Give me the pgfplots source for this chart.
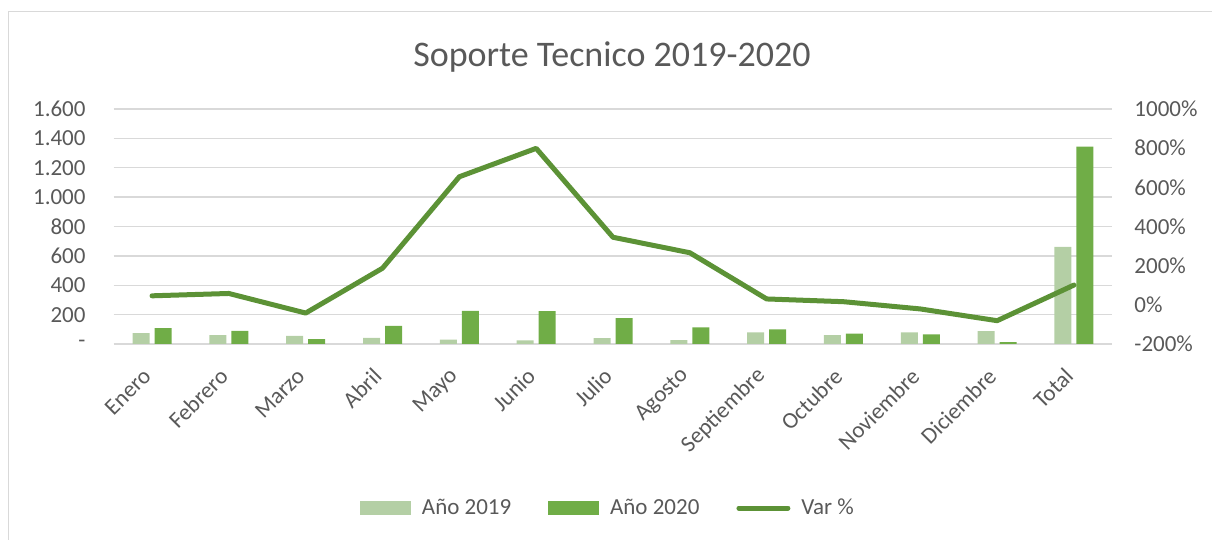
\documentclass[border=0pt]{standalone}
\usepackage{pgfplots}
\pgfplotsset{compat=1.18}
\usepackage{fontspec}
\setmainfont{Carlito}
\definecolor{cA}{HTML}{B4CFA5}
\definecolor{cB}{HTML}{70AD47}
\definecolor{cL}{HTML}{5C9236}
\definecolor{gridc}{HTML}{D9D9D9}
\definecolor{txt}{HTML}{595959}
\begin{document}
\begin{tikzpicture}
\useasboundingbox (0,0) rectangle (606pt,270pt);
\draw[gridc, line width=0.7pt] (4.15pt,-1pt) -- (4.15pt,264.15pt) -- (607pt,264.15pt);
\node[anchor=base, font=\fontsize{18}{21}\selectfont, text=txt] at (306pt,236.5pt) {Soporte Tecnico 2019-2020};
\begin{axis}[
  at={(56.8pt,98pt)}, anchor=south west, scale only axis,
  width=499.4pt, height=117.5pt,
  xmin=-0.5, xmax=12.5, ymin=0, ymax=1600,
  ytick={0,200,...,1600},
  yticklabels={-,200,400,600,800,1.000,1.200,1.400,1.600},
  xtick={0,...,12},
  xticklabels={Enero,Febrero,Marzo,Abril,Mayo,Junio,Julio,Agosto,Septiembre,Octubre,Noviembre,Diciembre,Total},
  axis line style={draw=none}, tick style={draw=none},
  ymajorgrids, grid style={gridc, line width=0.7pt},
  yticklabel style={font=\fontsize{11.5}{13}\selectfont, text=txt, xshift=-10.5pt},
  xticklabel style={font=\fontsize{11.5}{13}\selectfont, text=txt, xshift=0pt, yshift=-7.5pt, rotate=45, anchor=east},
  ybar=2.5pt, bar width=8.5pt,
]
\addplot[fill=cA, draw=none] coordinates {(0,74) (1,61) (2,56) (3,42) (4,29) (5,24) (6,40) (7,26) (8,79) (9,61) (10,79) (11,88) (12,662)};
\addplot[fill=cB, draw=none] coordinates {(0,108) (1,90) (2,33) (3,124) (4,226) (5,224) (6,176) (7,113) (8,99) (9,70) (10,65) (11,13) (12,1343)};
\end{axis}
\begin{axis}[
  at={(56.8pt,98pt)}, anchor=south west, scale only axis,
  width=499.4pt, height=117.5pt,
  xmin=-0.5, xmax=12.5, ymin=-200, ymax=1000,
  ytick={-200,0,...,1000},
  yticklabels={-200\%,0\%,200\%,400\%,600\%,800\%,1000\%},
  yticklabel pos=right,
  xtick=\empty,
  axis line style={draw=none}, tick style={draw=none},
  yticklabel style={font=\fontsize{11.5}{13}\selectfont, text=txt, xshift=7.5pt},
  legend columns=3,
  legend style={at={(0.496,-0.698)}, anchor=center, draw=none, fill=none,
    font=\fontsize{11.5}{13}\selectfont, text=txt,
    /tikz/every odd column/.append style={column sep=3.5pt},
    /tikz/every even column/.append style={column sep=16.5pt}},
]
\addlegendimage{legend image code/.code={\fill[cA] (0pt,-3.25pt) rectangle (25pt,3.25pt);}}
\addlegendentry{Año 2019}
\addlegendimage{legend image code/.code={\fill[cB] (0pt,-3.25pt) rectangle (25pt,3.25pt);}}
\addlegendentry{Año 2020}
\addplot[cL, line width=2.5pt, line join=round, line cap=round, mark=none,
  legend image code/.code={\draw[cL, line width=2.5pt, line cap=round] (1.25pt,0pt) -- (25.75pt,0pt);}]
  coordinates {(0,46) (1,58) (2,-42) (3,187) (4,654) (5,799) (6,345) (7,266) (8,30) (9,16) (10,-21) (11,-81) (12,101)};
\addlegendentry{Var \%}
\end{axis}
\end{tikzpicture}
\end{document}
